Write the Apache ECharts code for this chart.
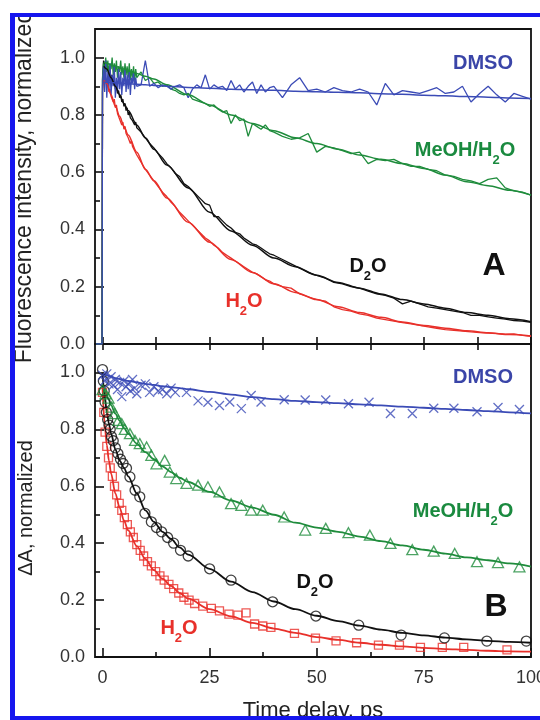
<!DOCTYPE html>
<html>
<head>
<meta charset="utf-8">
<script src="https://cdn.jsdelivr.net/npm/echarts@6/dist/echarts.min.js"></script>
<style>
html,body{margin:0;padding:0;background:#fff}
#chart{width:540px;height:720px}
</style>
</head>
<body>
<div id="chart"></div>
<script>
// ---------- Panel A: time-resolved fluorescence (raw traces + fits) ----------
const tRawA = [-1.5,-0.1,0,0.25,0.5,0.75,1,1.25,1.5,1.75,2,2.25,2.5,2.75,3,3.25,3.5,3.75,4,4.25,4.5,4.75,5,5.25,5.5,5.75,6,6.25,6.5,6.75,7,7.25,7.5,7.75,8,
  9,10,11,12,13,14,15,16,17,18,19,20,21,22,23,24,25,26,27,28,29,30,31,32,33,34,35,36,37,38,39,40,
  42,44,46,48,50,52,54,56,58,60,62,64,66,68,70,72,74,76,78,80,82,84,86,88,90,92,94,96,98,100];

const dmsoRawA = [0,0,
  0.90,0.97,0.88,0.99,0.86,0.95,0.89,0.98,0.87,0.94,0.90,0.97,0.86,0.93,0.88,0.96,0.89,0.95,0.87,0.93,0.90,0.96,0.88,0.94,0.89,0.95,0.87,0.93,0.91,0.95,0.89,0.93,0.90,
  0.905,0.99,0.90,0.91,0.895,0.905,0.90,0.89,0.90,0.905,0.895,0.86,0.89,0.905,0.895,0.94,0.89,0.905,0.895,0.90,0.885,0.92,0.89,0.905,0.88,0.90,0.915,0.875,0.905,0.88,0.895,0.90,
  0.86,0.905,0.93,0.885,0.89,0.88,0.895,0.885,0.88,0.89,0.88,0.835,0.91,0.87,0.885,0.88,0.875,0.885,0.895,0.875,0.88,0.90,0.845,0.875,0.90,0.87,0.845,0.875,0.865,0.855];

const meohRawA = [0,0,
  0.93,0.98,0.94,1.00,0.95,0.99,0.93,0.98,0.96,1.00,0.94,0.98,0.95,0.99,0.93,0.97,0.95,0.99,0.94,0.97,0.93,0.98,0.94,0.97,0.93,0.98,0.92,0.96,0.93,0.97,0.92,0.96,0.93,
  0.95,0.92,0.93,0.91,0.915,0.90,0.905,0.89,0.885,0.875,0.87,0.875,0.855,0.85,0.845,0.84,0.83,0.835,0.82,0.81,0.815,0.77,0.80,0.78,0.785,0.725,0.77,0.76,0.75,0.765,0.745,0.74,
  0.725,0.715,0.72,0.735,0.67,0.69,0.685,0.675,0.665,0.67,0.63,0.645,0.64,0.645,0.63,0.62,0.62,0.61,0.605,0.59,0.585,0.575,0.57,0.56,0.575,0.58,0.545,0.535,0.53,0.52];

const d2oRawA = [0,0,
  0.92,0.99,0.97,0.99,0.96,0.97,0.95,0.96,0.92,0.94,0.91,0.92,0.89,0.90,0.875,0.885,0.86,0.87,0.845,0.855,0.83,0.84,0.815,0.825,0.80,0.81,0.79,0.795,0.78,0.785,0.765,0.775,0.755,
  0.74,0.72,0.70,0.685,0.665,0.65,0.63,0.615,0.595,0.585,0.56,0.55,0.535,0.52,0.505,0.49,0.485,0.445,0.445,0.43,0.415,0.405,0.39,0.385,0.37,0.36,0.35,0.345,0.335,0.325,0.315,0.31,
  0.295,0.28,0.265,0.25,0.24,0.23,0.215,0.21,0.20,0.195,0.185,0.175,0.17,0.16,0.14,0.15,0.14,0.13,0.125,0.12,0.115,0.11,0.10,0.10,0.095,0.09,0.087,0.082,0.08,0.076];

const h2oRawA = [0,0,
  0.88,0.93,0.92,0.93,0.90,0.91,0.88,0.89,0.865,0.87,0.845,0.855,0.825,0.835,0.805,0.81,0.785,0.79,0.765,0.775,0.75,0.76,0.735,0.74,0.72,0.725,0.70,0.71,0.69,0.695,0.675,0.68,0.66,
  0.635,0.61,0.59,0.57,0.55,0.53,0.515,0.495,0.48,0.46,0.445,0.43,0.415,0.40,0.385,0.37,0.36,0.345,0.335,0.32,0.31,0.30,0.29,0.28,0.27,0.26,0.25,0.245,0.235,0.225,0.22,0.21,
  0.20,0.195,0.175,0.165,0.155,0.15,0.13,0.12,0.115,0.105,0.10,0.09,0.085,0.08,0.075,0.07,0.065,0.06,0.055,0.05,0.048,0.045,0.042,0.04,0.038,0.036,0.034,0.035,0.03,0.027];

const tFitA = [0.3,1,2,3,4,5,6,8,10,12,15,20,25,30,35,40,45,50,55,60,65,70,75,80,85,90,95,100];
const dmsoFitA = [0.915,0.914,0.913,0.912,0.911,0.91,0.909,0.907,0.905,0.903,0.90,0.896,0.893,0.89,0.888,0.886,0.883,0.881,0.879,0.877,0.874,0.872,0.869,0.867,0.864,0.862,0.859,0.857];
const meohFitA = [0.985,0.98,0.975,0.97,0.965,0.96,0.955,0.945,0.935,0.925,0.905,0.87,0.835,0.80,0.77,0.745,0.72,0.70,0.68,0.66,0.645,0.63,0.613,0.59,0.567,0.553,0.537,0.52];
const d2oFitA  = [0.97,0.96,0.93,0.90,0.87,0.84,0.815,0.765,0.72,0.68,0.625,0.545,0.46,0.395,0.345,0.30,0.27,0.24,0.215,0.195,0.175,0.155,0.14,0.125,0.11,0.10,0.088,0.078];
const h2oFitA  = [0.92,0.91,0.87,0.83,0.795,0.76,0.73,0.67,0.61,0.57,0.51,0.425,0.355,0.295,0.25,0.21,0.18,0.155,0.13,0.11,0.093,0.077,0.065,0.055,0.046,0.039,0.033,0.028];

// ---------- Panel B: transient absorption (points + fits) ----------
const tDmsoB = [0,0.5,1,1.5,2,2.5,3,3.5,4,4.5,5,5.5,6,6.5,7,7.5,8,9,10,11,12,13,14,15,16,17,
  19.6,22.3,24.6,27.3,29.7,32.4,34.7,37,42.4,47.3,52.1,57.4,62.2,67.2,72.3,77.3,82,87.4,92.3,97.3];
const dmsoB = [0.99,0.97,0.995,0.96,0.985,0.955,0.975,0.94,0.965,0.915,0.97,0.95,0.96,0.935,0.975,0.945,0.925,0.955,0.96,0.93,0.95,0.935,0.94,0.925,0.945,0.93,
  0.93,0.90,0.895,0.884,0.896,0.873,0.919,0.896,0.904,0.903,0.903,0.89,0.895,0.856,0.856,0.874,0.874,0.862,0.877,0.87];

const tMeohB = [0,0.7,1.4,2.1,2.9,3.7,4.5,5.2,6.4,7.6,8.7,10.3,11.4,12.6,14.5,15.7,17.2,19.6,22.3,24.6,27.3,30,32.4,34.7,37.4,
  42.4,47.3,52.1,57.4,62.4,67.2,72.3,77.3,82.2,87.4,92.3,97.3];
const meohB = [0.94,0.925,0.91,0.878,0.855,0.832,0.82,0.80,0.785,0.761,0.75,0.738,0.709,0.679,0.691,0.65,0.627,0.61,0.604,0.598,0.58,0.539,0.533,0.516,0.516,
  0.492,0.446,0.452,0.437,0.428,0.399,0.377,0.372,0.364,0.335,0.332,0.317];

const tD2oB = [0,0.2,0.4,0.6,0.9,1.2,1.5,1.8,2.1,2.5,3.0,3.6,4.2,4.8,5.6,6.4,7.6,8.7,9.9,11.4,12.6,13.8,15.2,16.6,18.2,20,25,30,
  39.7,49.8,59.8,69.7,79.8,89.7,98.9];
const d2oB = [1.01,0.97,0.935,0.895,0.86,0.835,0.815,0.80,0.775,0.76,0.735,0.715,0.695,0.68,0.663,0.633,0.586,0.563,0.505,0.475,0.455,0.44,0.42,0.40,0.375,0.355,0.31,0.27,
  0.194,0.144,0.112,0.077,0.067,0.056,0.056];

const tH2oB = [0,0.3,0.6,1,1.4,1.8,2.3,2.8,3.3,3.9,4.5,5.1,5.8,6.5,7.2,8,8.8,9.6,10.5,11.4,12.4,13.4,14.4,15.5,16.6,17.8,19,20.2,
  21.5,23.4,25.4,27.3,29.5,31.6,33.5,35.5,37.4,39.3,44.8,49.7,54.5,59.3,64.4,69.3,74.2,79.3,84.3,94.4];
const h2oB = [0.93,0.86,0.79,0.74,0.70,0.665,0.635,0.60,0.57,0.54,0.515,0.49,0.465,0.44,0.42,0.395,0.375,0.355,0.335,0.32,0.30,0.285,0.27,0.255,0.24,0.225,0.21,0.20,
  0.188,0.179,0.171,0.162,0.151,0.147,0.155,0.116,0.109,0.104,0.083,0.066,0.057,0.05,0.042,0.042,0.034,0.034,0.034,0.025];

const tFitB = [0,0.5,1,1.5,2,3,4,5,6,8,10,12,14,16,18,20,25,30,35,40,45,50,55,60,65,70,75,80,85,90,95,100];
const dmsoFitB = [0.995,0.993,0.99,0.988,0.985,0.98,0.977,0.973,0.97,0.965,0.96,0.956,0.952,0.948,0.945,0.941,0.932,0.922,0.913,0.906,0.90,0.896,0.892,0.888,0.884,0.88,0.876,0.872,0.868,0.864,0.86,0.856];
const meohFitB = [0.95,0.935,0.92,0.902,0.885,0.855,0.83,0.805,0.785,0.75,0.72,0.695,0.67,0.65,0.63,0.615,0.58,0.55,0.525,0.50,0.472,0.455,0.44,0.423,0.407,0.392,0.377,0.363,0.35,0.34,0.329,0.318];
const d2oFitB  = [1.0,0.92,0.86,0.82,0.785,0.73,0.69,0.665,0.635,0.575,0.515,0.475,0.44,0.415,0.385,0.36,0.31,0.265,0.228,0.195,0.168,0.145,0.126,0.11,0.096,0.085,0.076,0.068,0.062,0.057,0.053,0.05];
const h2oFitB  = [0.95,0.82,0.745,0.69,0.645,0.575,0.525,0.48,0.445,0.39,0.345,0.305,0.275,0.25,0.225,0.205,0.168,0.143,0.12,0.10,0.085,0.07,0.06,0.05,0.043,0.037,0.032,0.028,0.025,0.022,0.02,0.019];

// ---------- axis ticks ----------
const xLabelTicks = [0, 25, 50, 75, 100];
const xMinorTicks = [12.5, 37.5, 62.5, 87.5];
const xAllTicks = [0, 12.5, 25, 37.5, 50, 62.5, 75, 87.5, 100];
const yLabelTicks = [0, 0.2, 0.4, 0.6, 0.8, 1.0];
const yMinorTicks = [0.1, 0.3, 0.5, 0.7, 0.9];

const COL = { dmso: '#3b4bb6', meoh: '#1f8c3c', d2o: '#111111', h2o: '#e8302a' };
const FONT = '"Liberation Sans", Arial, Helvetica, sans-serif';
const INK = '#111';

const pairs = (xs, ys) => xs.map((x, i) => [x, ys[i]]);

// panel rectangles: A on top, B below; overlay grids carry the minor ticks
const gridA = { left: 95, right: 9, top: 29, height: 315, outerBoundsMode: 'none', containLabel: false };
const gridB = { left: 95, right: 9, top: 344, height: 313, outerBoundsMode: 'none', containLabel: false };

function xAxisDef(gridIndex, position, ticks, len, withLabels) {
  return {
    type: 'value', gridIndex, position, min: -1.75, max: 100,
    axisLine: { show: false, onZero: false }, splitLine: { show: false },
    axisTick: { show: ticks.length > 0, inside: true, length: len, customValues: ticks, lineStyle: { color: INK, width: 1.6 } },
    axisLabel: withLabels
      ? { show: true, customValues: xLabelTicks, margin: 12, fontSize: 18, fontFamily: FONT, color: '#333', formatter: v => String(v) }
      : { show: false }
  };
}
function yAxisDef(gridIndex, ticks, len, withLabels) {
  return {
    type: 'value', gridIndex, position: 'left', min: 0, max: 1.1,
    axisLine: { show: false, onZero: false }, splitLine: { show: false },
    axisTick: { show: true, inside: true, length: len, customValues: ticks, lineStyle: { color: INK, width: 1.6 } },
    axisLabel: withLabels
      ? { show: true, customValues: yLabelTicks, margin: 10, fontSize: 18, fontFamily: FONT, color: '#333', formatter: v => v.toFixed(1) }
      : { show: false }
  };
}

function rawLine(xs, ys, color) {
  return { type: 'line', xAxisIndex: 0, yAxisIndex: 0, data: pairs(xs, ys), symbol: 'none',
    lineStyle: { color, width: 1.3 }, silent: true, z: 2 };
}
function fitLine(xs, ys, color, panel, w) {
  return { type: 'line', xAxisIndex: panel, yAxisIndex: panel, data: pairs(xs, ys), symbol: 'none',
    smooth: 0.3, smoothMonotone: 'x', lineStyle: { color, width: w }, silent: true, z: 3 };
}
function points(xs, ys, color, symbol, size) {
  return { type: 'scatter', xAxisIndex: 1, yAxisIndex: 1, data: pairs(xs, ys), symbol, symbolSize: size,
    itemStyle: { color: 'rgba(0,0,0,0)', borderColor: color, borderWidth: 1.3 }, silent: true, z: 4 };
}

function label(x, y, parts, color, size) {
  return {
    type: 'text', x, y, z: 50,
    style: {
      text: parts, fill: color, font: 'bold ' + size + 'px ' + FONT,
      align: 'center', verticalAlign: 'middle', textAlign: 'center', textVerticalAlign: 'middle',
      rich: {
        m: { fontSize: size, fontWeight: 'bold', fontFamily: FONT, fill: color, color },
        s: { fontSize: 13, fontWeight: 'bold', fontFamily: FONT, fill: color, color, padding: [20, 0, 0, 0] }
      }
    }
  };
}
function axisTitle(x, y, text, size, rotation) {
  return {
    type: 'text', x, y, rotation, z: 40,
    style: { text, fill: '#222', font: size + 'px ' + FONT,
      align: 'center', verticalAlign: 'middle', textAlign: 'center', textVerticalAlign: 'middle' }
  };
}

const chart = echarts.init(document.getElementById('chart'), null, { renderer: 'canvas' });
chart.setOption({
  animation: false,
  backgroundColor: '#fff',
  grid: [
    Object.assign({ show: true, borderColor: INK, borderWidth: 1.8, backgroundColor: 'transparent' }, gridA),
    Object.assign({ show: true, borderColor: INK, borderWidth: 1.8, backgroundColor: 'transparent' }, gridB),
    Object.assign({ show: false }, gridA),
    Object.assign({ show: false }, gridB)
  ],
  xAxis: [
    xAxisDef(0, 'bottom', xAllTicks, 7, false),   // A bottom
    xAxisDef(1, 'bottom', xLabelTicks, 9, true),  // B bottom, labelled
    xAxisDef(1, 'top', xAllTicks, 6, false),      // B top
    xAxisDef(2, 'bottom', [], 5, false),          // A overlay (no ticks)
    xAxisDef(3, 'bottom', xMinorTicks, 5, false)  // B bottom minor
  ],
  yAxis: [
    yAxisDef(0, yLabelTicks, 9, true),
    yAxisDef(1, yLabelTicks, 9, true),
    yAxisDef(2, yMinorTicks, 5, false),
    yAxisDef(3, yMinorTicks, 5, false)
  ],
  series: [
    // panel A
    rawLine(tRawA, h2oRawA, COL.h2o),
    fitLine(tFitA, h2oFitA, COL.h2o, 0, 1.5),
    rawLine(tRawA, d2oRawA, COL.d2o),
    fitLine(tFitA, d2oFitA, COL.d2o, 0, 1.5),
    rawLine(tRawA, meohRawA, COL.meoh),
    fitLine(tFitA, meohFitA, COL.meoh, 0, 1.5),
    rawLine(tRawA, dmsoRawA, COL.dmso),
    fitLine(tFitA, dmsoFitA, COL.dmso, 0, 1.5),
    // panel B
    fitLine(tFitB, h2oFitB, COL.h2o, 1, 1.8),
    points(tH2oB, h2oB, COL.h2o, 'rect', 8),
    fitLine(tFitB, d2oFitB, COL.d2o, 1, 1.8),
    points(tD2oB, d2oB, COL.d2o, 'circle', 10),
    fitLine(tFitB, meohFitB, COL.meoh, 1, 1.8),
    points(tMeohB, meohB, COL.meoh, 'triangle', [11, 10]),
    fitLine(tFitB, dmsoFitB, COL.dmso, 1, 1.8),
    points(tDmsoB, dmsoB, COL.dmso, 'path://M0,0L10,10M10,0L0,10', 9)
  ],
  graphic: [
    // axis titles
    axisTitle(25, 187, 'Fluorescence intensity, normalized', 23, Math.PI / 2),
    axisTitle(26, 508, '\u0394A, normalized', 20, Math.PI / 2),
    axisTitle(313, 711, 'Time delay, ps', 22, 0),
    // panel A labels
    label(483, 63, '{m|DMSO}', '#3a45a8', 20),
    label(465, 150, '{m|MeOH/H}{s|2}{m|O}', '#1a8a3f', 20),
    label(368, 266, '{m|D}{s|2}{m|O}', '#111', 20),
    label(244, 301, '{m|H}{s|2}{m|O}', '#e8302a', 20),
    { type: 'text', x: 494, y: 266, z: 50, style: { text: 'A', fill: '#111', font: 'bold 32px ' + FONT,
      align: 'center', verticalAlign: 'middle', textAlign: 'center', textVerticalAlign: 'middle' } },
    // panel B labels
    label(483, 377, '{m|DMSO}', '#3a45a8', 20),
    label(463, 511, '{m|MeOH/H}{s|2}{m|O}', '#1a8a3f', 20),
    label(315, 582, '{m|D}{s|2}{m|O}', '#111', 20),
    label(179, 628, '{m|H}{s|2}{m|O}', '#e8302a', 20),
    { type: 'text', x: 496, y: 607, z: 50, style: { text: 'B', fill: '#111', font: 'bold 32px ' + FONT,
      align: 'center', verticalAlign: 'middle', textAlign: 'center', textVerticalAlign: 'middle' } },
    // page frame
    { type: 'rect', z: 100, shape: { x: 0, y: 0, width: 540, height: 13 }, style: { fill: '#fff' } },
    { type: 'rect', z: 101, shape: { x: 10, y: 13, width: 530, height: 4 }, style: { fill: '#1616ee' } },
    { type: 'rect', z: 101, shape: { x: 10, y: 13, width: 5, height: 707 }, style: { fill: '#1616ee' } },
    { type: 'rect', z: 101, shape: { x: 10, y: 716, width: 530, height: 4 }, style: { fill: '#1616ee' } }
  ]
});
</script>
</body>
</html>
